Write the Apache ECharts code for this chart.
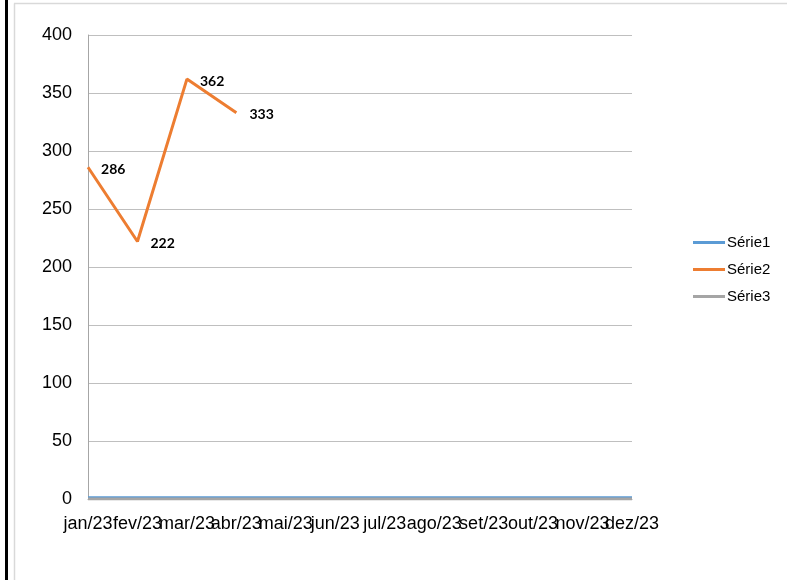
<!DOCTYPE html>
<html><head><meta charset="utf-8">
<script src="https://cdn.jsdelivr.net/npm/echarts@6/dist/echarts.min.js"></script>
<style>html,body{margin:0;padding:0;background:#fff}#c{width:787px;height:580px}</style>
</head><body><div id="c"></div>
<script>
var categories = ['jan/23','fev/23','mar/23','abr/23','mai/23','jun/23','jul/23','ago/23','set/23','out/23','nov/23','dez/23'];
var serie1 = [1,1,1,1,1,1,1,1,1,1,1,1];
var serie2 = [286,222,362,333];
var serie3 = [0,0,0,0,0,0,0,0,0,0,0,0];
var yTicks = {min:0, max:400, interval:50};

var chart = echarts.init(document.getElementById('c'), null, {renderer:'canvas'});
var font = '"Liberation Sans", Arial, sans-serif';
chart.setOption({
  animation:false,
  backgroundColor:'#fff',
  graphic:[
    {type:'rect', shape:{x:5,y:0,width:3,height:580}, style:{fill:'#000'}},
    {type:'line', shape:{x1:14.5,y1:3.5,x2:14.5,y2:580}, style:{stroke:'#d9d9d9',lineWidth:1.5}},
    {type:'line', shape:{x1:14,y1:3.5,x2:787,y2:3.5}, style:{stroke:'#d9d9d9',lineWidth:1.5}}
  ],
  grid:{left:88, right:155, top:35, bottom:81, containLabel:false},
  legend:{
    orient:'vertical', left:688, top:230, itemGap:12, itemWidth:32, itemHeight:3,
    icon:'rect',
    textStyle:{fontFamily:font, fontSize:15, color:'#000', padding:[0,0,0,-3]},
    data:['Série1','Série2','Série3']
  },
  xAxis:{
    type:'category', data:categories, boundaryGap:false,
    axisLine:{show:true, lineStyle:{color:'#a6a6a6', width:1}},
    axisTick:{show:false},
    axisLabel:{interval:0, margin:16, color:'#000', fontFamily:font, fontSize:18},
    splitLine:{show:false}
  },
  yAxis:{
    type:'value', min:yTicks.min, max:yTicks.max, interval:yTicks.interval,
    axisLine:{show:true, lineStyle:{color:'#a6a6a6', width:1}},
    axisTick:{show:false},
    axisLabel:{margin:16, color:'#000', fontFamily:font, fontSize:18, padding:[4,0,0,0]},
    splitLine:{show:true, lineStyle:{color:'#bfbfbf', width:1}}
  },
  series:[
    {name:'Série1', type:'line', data:serie1, showSymbol:false, symbol:'none',
     lineStyle:{color:'#5B9BD5', width:3}, itemStyle:{color:'#5B9BD5'}},
    {name:'Série2', type:'line', data:serie2, showSymbol:true, symbol:'circle', symbolSize:0.1,
     lineStyle:{color:'#ED7D31', width:3}, itemStyle:{color:'#ED7D31'},
     label:{show:true, position:'right', distance:13, offset:[0,2],
            fontFamily:'Lato, "Open Sans", sans-serif', fontWeight:'bold', fontSize:14, color:'#000'}},
    {name:'Série3', type:'line', data:serie3, showSymbol:false, symbol:'none',
     lineStyle:{color:'#A5A5A5', width:3}, itemStyle:{color:'#A5A5A5'}}
  ]
});
</script></body></html>
